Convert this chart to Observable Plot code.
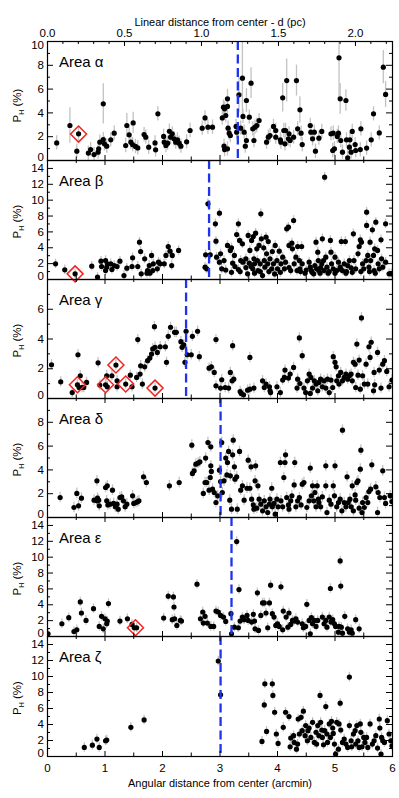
<!DOCTYPE html>
<html><head><meta charset="utf-8">
<script src="https://cdn.jsdelivr.net/npm/d3@7"></script>
<script src="https://cdn.jsdelivr.net/npm/@observablehq/plot@0.6"></script>
<style>
body{margin:0;background:#fff;}
#chart svg{display:block;overflow:visible;background:transparent;}
</style></head><body><div id="chart"></div>
<script>
// ---------- data ----------
const ARCMIN_PER_PC = 2.678;
const pcTicks = [0, 0.5, 1.0, 1.5, 2.0];
const arcminTicks = [0, 1, 2, 3, 4, 5, 6];
const areaNames = ["Area α", "Area β", "Area γ", "Area δ", "Area ε", "Area ζ"];
const boundaries = [3.31, 2.81, 2.41, 3.01, 3.2, 3.01];
const yMaxes = [10, 15, 8, 10, 15, 15];
const yLabels = [[2,4,6,8],[2,4,6,8,10,12,14],[2,4,6],[2,4,6,8],[2,4,6,8,10,12,14],[2,4,6,8,10,12,14]];
const defaultErr = [0.6, 0.6, 0.35, 0.45, 0.6, 0.6];

// [arcmin, P_H(%), optional error]
const alphaPts = [[0.16,1.48],[0.39,2.94,1.5],[0.51,0.78],[0.54,2.24],[0.71,0.62],[0.75,0.92],[0.81,0.5],[0.88,0.7],[0.89,0.98],[0.91,1.54],[0.97,4.76,1.7],[0.97,1.76],[0.99,1.4],[1.03,1.2],[1.1,1.74],[1.16,2.3],[1.38,2.94,1.0],[1.42,2.16],[1.36,1.26],[1.45,1.54],[1.49,3.16,0.9],[1.48,1.34],[1.53,1.18],[1.57,1.06],[1.68,2.18],[1.71,1.96],[1.76,1.12],[1.87,1.48],[1.88,0.9],[1.92,3.92],[2.02,2.02],[2.03,1.54],[2.06,1.26],[2.09,1.46],[2.12,2.46],[2.14,1.96],[2.17,2.24],[2.2,1.82],[2.23,1.54],[2.26,1.74],[2.32,1.2],[2.29,1.46],[2.42,1.57],[2.48,2.52],[2.69,2.72],[2.74,3.58],[2.79,2.8],[2.87,2.8],[3.04,3.58],[3.06,4.48],[3.08,4.34],[3.1,3.78],[3.13,5.18,0.8],[3.13,4.54],[3.14,2.72],[3.16,2.3],[3.18,2.1],[3.07,1.2],[3.08,0.92],[3.13,0.98],[3.28,2.86],[3.29,2.38],[3.33,5.52,1.5],[3.36,2.72],[3.39,6.92,3.1],[3.4,3.7],[3.42,2.38],[3.44,1.2],[3.46,5.04,1.0],[3.46,1.68],[3.51,3.64],[3.54,6.5,1.3],[3.57,2.66],[3.59,1.68],[3.61,2.8],[3.64,2.94],[3.68,3.36],[3.81,1.54],[3.84,1.96],[3.87,2.1],[3.93,2.86],[3.97,2.52],[3.97,1.96],[4.05,1.74],[4.06,1.54],[4.09,5.27,1.2],[4.11,2.52],[4.13,1.4],[4.14,2.52],[4.16,6.72,1.8],[4.19,1.82],[4.2,2.24],[4.22,1.68],[4.28,1.96],[4.33,6.72,1.3],[4.35,2.66],[4.39,4.26,1.1],[4.41,2.3],[4.43,1.34],[4.57,2.94],[4.58,2.38],[4.61,1.82],[4.64,2.38],[4.66,0.78],[4.72,1.88],[4.77,2.44],[4.93,2.24],[4.96,0.84],[4.97,2.3],[4.99,0.98],[5.04,2.02],[5.06,2.3],[5.07,8.63,3.5],[5.09,5.18,1.3],[5.1,1.68],[5.13,0.7],[5.19,5.04,0.9],[5.2,1.74],[5.22,0.22],[5.25,1.12],[5.28,0.7],[5.26,1.74],[5.3,2.44],[5.35,1.34],[5.36,0.84],[5.45,2.66],[5.44,0.92],[5.55,1.04],[5.63,1.74],[5.67,3.92],[5.77,2.32],[5.84,7.84,1.4],[5.88,5.55,1.1]];

const betaPts = [[0.14,1.97],[0.3,1.22],[0.48,0.71],[0.77,1.68],[0.87,0.29],[0.93,2.31],[0.94,1.64],[1.01,2.39],[1.03,1.55],[1.04,1.97],[1.01,1.13],[1.1,1.97],[1.12,1.26],[1.16,1.76],[1.21,1.64],[1.26,2.31],[1.33,0.5],[1.38,1.43],[1.47,1.64],[1.48,2.73],[1.57,1.64],[1.6,4.71],[1.62,3.53],[1.63,0.71],[1.69,2.6],[1.73,0.8],[1.74,1.13],[1.77,1.76],[1.78,0.8],[1.81,3.03],[1.83,1.13],[1.84,1.97],[1.91,1.34],[1.93,2.18],[1.96,1.97],[2.03,1.97],[2.06,3.03],[2.1,4.16],[2.13,3.57],[2.16,1.76],[2.17,3.03],[2.28,3.66],[2.74,1.55],[2.75,3.11],[2.77,1.34],[2.79,9.54],[2.83,3.11],[2.92,7.02],[2.93,4.83],[2.94,2.82],[2.99,8.36],[2.99,2.18],[3.01,3.24],[3.03,1.34],[3.07,2.39],[3.13,4.29],[3.18,3.66],[3.2,3.99],[3.22,2.06],[3.25,3.03],[3.26,1.64],[3.29,5.67],[3.32,7.02],[3.32,1.26],[3.34,4.92],[3.36,2.39],[3.39,4.5],[3.4,2.18],[3.45,2.6],[3.48,0.71],[3.49,5.55],[3.51,2.06],[3.52,3.66],[3.54,1.64],[3.55,4.92],[3.57,1.34],[3.58,5.42],[3.59,2.6],[3.6,1.97],[3.62,5.84],[3.64,3.87],[3.65,2.39],[3.66,1.13],[3.68,4.29],[3.7,1.97],[3.71,8.28],[3.72,5.13],[3.74,0.5],[3.76,3.99],[3.77,2.39],[3.78,1.55],[3.8,5.34],[3.81,3.24],[3.83,1.97],[3.84,4.79],[3.87,2.6],[3.9,1.34],[3.91,3.53],[3.93,1.97],[3.96,4.29],[3.99,2.39],[4.0,1.34],[4.03,3.57],[4.06,1.97],[4.09,2.82],[4.12,1.34],[4.14,2.18],[4.16,6.39],[4.19,6.6],[4.2,4.29],[4.23,1.13],[4.25,4.58],[4.26,3.87],[4.28,7.44],[4.29,1.97],[4.32,2.82],[4.34,1.13],[4.35,4.16],[4.38,2.39],[4.39,1.34],[4.42,4.16],[4.43,1.97],[4.48,0.8],[4.55,2.18],[4.57,1.55],[4.59,1.13],[4.63,0.71],[4.65,1.76],[4.67,4.71],[4.68,1.34],[4.7,3.45],[4.71,2.39],[4.72,1.13],[4.74,0.8],[4.77,1.97],[4.78,5.13],[4.8,2.39],[4.81,1.13],[4.82,12.9],[4.84,2.82],[4.86,1.55],[4.88,0.8],[4.92,4.92],[4.93,3.45],[4.94,1.97],[4.97,1.34],[5.0,2.82],[5.03,1.13],[5.06,2.18],[5.09,1.55],[5.11,4.79],[5.13,1.13],[5.16,1.97],[5.18,4.79],[5.19,0.8],[5.22,1.76],[5.25,2.39],[5.28,1.47],[5.32,5.76],[5.33,2.39],[5.36,1.34],[5.4,3.24],[5.42,4.16],[5.44,5.0],[5.46,4.71],[5.48,1.97],[5.5,1.34],[5.54,2.39],[5.55,8.49],[5.55,6.81],[5.57,3.03],[5.59,1.55],[5.61,4.71],[5.62,2.39],[5.65,6.26],[5.67,3.03],[5.68,1.13],[5.69,3.87],[5.71,7.23],[5.74,3.66],[5.75,1.97],[5.77,1.34],[5.8,5.0],[5.81,2.6],[5.83,1.55],[5.88,7.02],[5.88,2.18],[5.94,0.71],[5.98,0.71],[3.1,1.2],[3.2,0.9],[3.35,1.0],[3.45,1.5],[3.6,0.8],[3.7,1.0],[3.85,1.0],[3.95,0.7],[4.05,0.9],[4.2,1.5],[4.4,1.0],[4.5,1.2],[4.6,0.9],[4.75,1.5],[4.9,1.0],[5.0,0.8],[5.1,1.3],[5.2,1.0],[5.3,0.9],[5.45,1.0],[5.6,1.0],[5.7,0.8]];

const gammaPts = [[0.07,2.27],[0.23,1.12],[0.43,0.4],[0.52,0.92],[0.53,2.94],[0.55,0.74],[0.57,1.53],[0.6,0.74],[0.63,0.74],[0.68,1.08],[0.88,2.4],[0.91,0.9],[1.01,0.92],[1.03,1.53],[1.04,0.79],[1.12,1.53],[1.19,2.25],[1.21,1.19],[1.21,0.79],[1.36,0.97],[1.44,1.57],[1.47,0.79],[1.55,1.42],[1.57,3.96],[1.61,1.64],[1.62,2.2],[1.65,0.97],[1.69,2.13],[1.74,2.54],[1.78,2.72],[1.81,2.99],[1.83,3.33],[1.86,4.83],[1.87,3.44],[1.87,0.7],[1.91,3.1],[1.96,3.48],[2.05,3.48],[2.07,2.43],[2.1,4.18],[2.14,4.79],[2.21,4.45],[2.24,4.45],[2.32,3.82],[2.34,3.44],[2.37,3.6],[2.39,2.43],[2.41,4.52],[2.43,2.94],[2.5,2.94],[2.52,4.18],[2.61,4.52],[2.64,2.81],[2.81,2.04],[2.85,2.13],[2.9,1.75],[2.93,3.96],[2.93,0.85],[3.01,0.7],[3.03,1.26],[3.09,0.74],[3.15,0.7],[3.18,1.75],[3.21,1.19],[3.22,3.55],[3.24,1.3],[3.35,0.47],[3.37,0.34],[3.41,0.25],[3.48,0.56],[3.52,2.76],[3.52,0.63],[3.59,0.7],[3.74,1.19],[3.77,0.74],[3.8,0.97],[3.86,0.79],[3.87,0.52],[3.88,0.4],[3.99,0.79],[4.05,0.4],[4.09,1.24],[4.12,1.42],[4.13,1.91],[4.19,1.37],[4.22,1.64],[4.28,2.09],[4.34,0.7],[4.35,1.3],[4.38,4.07],[4.39,1.01],[4.43,2.88],[4.46,0.7],[4.49,0.4],[4.52,1.19],[4.55,1.64],[4.57,0.34],[4.58,1.42],[4.61,0.7],[4.64,1.19],[4.67,0.97],[4.7,0.52],[4.72,1.08],[4.75,1.3],[4.78,0.79],[4.81,1.19],[4.84,0.7],[4.87,1.3],[4.9,0.4],[4.93,1.24],[4.96,0.74],[4.97,2.81],[5.0,2.43],[5.02,2.13],[5.03,1.19],[5.06,1.53],[5.07,0.97],[5.1,1.75],[5.13,1.19],[5.16,1.42],[5.19,1.64],[5.22,1.3],[5.25,1.53],[5.28,1.64],[5.3,1.19],[5.32,2.43],[5.35,2.31],[5.36,0.74],[5.38,3.66],[5.4,1.57],[5.42,2.58],[5.44,0.63],[5.46,5.42],[5.48,1.53],[5.51,0.97],[5.54,2.31],[5.57,0.97],[5.59,3.48],[5.61,2.76],[5.63,3.78],[5.67,0.52],[5.68,1.75],[5.69,0.92],[5.74,3.1],[5.77,1.91],[5.8,0.7],[5.83,2.31],[5.86,2.54],[5.9,1.82],[5.94,0.79],[5.99,1.24]];

const deltaPts = [[0.22,1.68],[0.46,0.84],[0.51,2.02],[0.54,0.98],[0.59,1.62],[0.81,1.46],[0.86,3.08],[0.87,1.62],[0.89,1.46],[0.9,0.98],[0.86,1.4],[1.01,2.52],[1.04,2.66],[1.03,1.4],[1.05,1.06],[1.09,1.12],[1.13,2.3],[1.15,1.18],[1.18,0.9],[1.21,1.12],[1.23,0.7],[1.26,1.68],[1.29,1.74],[1.32,1.4],[1.35,0.9],[1.38,1.12],[1.48,1.82],[1.5,1.18],[1.54,1.26],[1.57,1.34],[1.59,1.4],[1.67,3.42],[1.72,2.94],[2.12,2.66],[2.29,2.94],[2.51,6.08],[2.52,3.7],[2.55,3.92],[2.58,4.48],[2.62,4.57],[2.65,4.68],[2.71,2.02],[2.74,2.94],[2.75,4.99],[2.77,2.94],[2.79,6.3],[2.81,2.3],[2.83,3.36],[2.84,5.94],[2.84,4.34],[2.85,3.87],[2.87,2.38],[2.9,2.1],[2.93,1.26],[2.96,1.82],[2.99,3.98],[3.01,3.02],[3.03,6.3],[3.04,2.1],[3.07,3.08],[3.1,4.99],[3.12,3.58],[3.13,4.62],[3.15,5.55],[3.17,1.46],[3.18,3.5],[3.2,0.7],[3.22,5.27],[3.23,6.5],[3.25,4.26],[3.26,3.22],[3.29,3.42],[3.3,0.7],[3.34,5.55],[3.36,2.3],[3.39,2.66],[3.42,1.46],[3.47,2.46],[3.49,4.82],[3.52,2.46],[3.54,4.26],[3.55,1.54],[3.58,1.06],[3.59,0.7],[3.61,3.08],[3.62,4.34],[3.64,0.78],[3.66,2.66],[3.68,1.54],[3.71,1.12],[3.74,0.56],[3.77,1.4],[3.8,0.9],[3.83,0.42],[3.86,1.12],[3.87,1.54],[3.9,2.46],[3.91,0.9],[3.94,1.18],[3.96,0.28],[3.99,1.54],[4.01,0.9],[4.05,4.62],[4.06,1.4],[4.09,0.9],[4.11,3.36],[4.13,4.62],[4.14,5.27],[4.16,1.68],[4.19,1.06],[4.2,0.7],[4.23,1.4],[4.25,1.82],[4.29,2.74],[4.3,4.62],[4.32,0.9],[4.35,1.4],[4.38,1.68],[4.41,1.06],[4.43,2.8],[4.46,2.94],[4.51,0.84],[4.55,1.4],[4.57,4.15],[4.59,1.82],[4.61,2.66],[4.63,1.4],[4.65,2.1],[4.67,0.9],[4.69,2.66],[4.71,1.54],[4.72,1.26],[4.75,0.9],[4.78,1.74],[4.84,2.66],[4.86,0.42],[4.84,4.34],[4.9,1.46],[4.93,1.12],[4.97,2.66],[4.99,1.82],[5.0,4.34],[5.03,0.9],[5.06,1.26],[5.09,1.54],[5.12,0.56],[5.13,7.34],[5.16,1.26],[5.19,0.9],[5.21,3.42],[5.23,1.26],[5.26,1.54],[5.28,0.9],[5.3,2.66],[5.32,0.56],[5.35,1.9],[5.36,1.46],[5.38,2.94],[5.4,3.08],[5.42,0.78],[5.44,4.06],[5.45,5.66],[5.47,0.42],[5.48,1.26],[5.51,0.84],[5.54,1.68],[5.57,1.26],[5.59,2.18],[5.62,2.38],[5.64,4.43],[5.71,2.58],[5.74,0.42],[5.75,2.1],[5.78,1.68],[5.83,3.92],[5.86,1.68],[5.88,1.18],[5.96,1.82],[5.99,1.34]];

const epsilonPts = [[0.01,0.34],[0.25,1.61],[0.37,2.37],[0.46,0.63],[0.51,0.85],[0.57,4.36],[0.59,2.96],[0.67,2.03],[0.8,3.51],[0.9,1.27],[0.94,2.54],[0.97,0.97],[1.0,2.24],[1.03,1.61],[1.04,1.95],[1.06,4.15],[1.26,1.95],[1.39,2.24],[1.47,1.52],[1.51,1.1],[1.55,1.1],[2.02,2.33],[2.1,5.08],[2.17,2.12],[2.19,4.99],[2.2,3.72],[2.21,2.24],[2.25,1.4],[2.31,2.03],[2.33,1.95],[2.6,6.6],[2.66,2.24],[2.7,3.09],[2.71,1.69],[2.74,2.54],[2.78,1.69],[2.84,1.27],[2.89,1.27],[2.93,3.21],[2.97,3.09],[3.01,2.66],[3.06,2.45],[3.1,1.9],[3.19,2.88],[3.2,0.34],[3.25,1.18],[3.29,11.97],[3.32,1.1],[3.33,5.92],[3.35,1.95],[3.39,2.45],[3.42,2.12],[3.47,2.66],[3.49,2.03],[3.55,1.82],[3.58,2.79],[3.6,1.95],[3.61,0.97],[3.65,5.5],[3.67,0.76],[3.71,2.66],[3.74,4.23],[3.77,4.23],[3.8,2.96],[3.83,1.1],[3.86,4.23],[3.88,6.47],[3.91,2.88],[3.94,2.45],[3.97,1.4],[4.0,1.61],[4.03,1.27],[4.06,6.26],[4.09,0.85],[4.1,3.21],[4.15,2.45],[4.18,1.18],[4.2,2.96],[4.23,1.52],[4.26,2.03],[4.29,1.95],[4.32,2.24],[4.35,1.82],[4.43,1.61],[4.45,1.1],[4.49,1.27],[4.51,4.06],[4.55,2.03],[4.57,0.34],[4.59,2.37],[4.61,1.61],[4.64,2.03],[4.67,1.27],[4.7,2.03],[4.78,2.45],[4.81,1.61],[4.84,2.03],[4.86,1.18],[4.9,2.45],[4.92,6.05],[4.93,1.82],[4.96,2.12],[4.99,1.61],[5.01,1.27],[5.06,0.55],[5.07,1.27],[5.09,9.52],[5.1,6.35],[5.11,1.18],[5.13,0.42],[5.17,2.54],[5.22,0.97],[5.25,0.55],[5.28,0.85],[5.3,0.42],[5.36,2.12],[5.42,0.97]];

const zetaPts = [[0.64,1.13],[0.78,1.42],[0.86,2.18],[0.9,1.13],[1.01,1.97],[1.03,2.05],[1.45,3.65],[1.68,4.57],[2.97,11.94],[3.01,7.71],[3.73,1.89],[3.77,6.45],[3.78,9.09],[3.81,3.14],[3.91,9.09],[3.92,7.63],[3.95,5.53],[3.98,2.81],[4.01,1.63],[4.1,3.65],[4.14,5.53],[4.2,4.99],[4.22,1.22],[4.23,2.31],[4.28,2.6],[4.29,1.76],[4.33,0.92],[4.35,1.55],[4.36,4.69],[4.38,2.81],[4.41,4.9],[4.43,3.23],[4.45,5.66],[4.48,2.6],[4.49,3.86],[4.52,1.97],[4.53,3.23],[4.55,3.56],[4.58,2.39],[4.61,4.27],[4.64,1.76],[4.67,3.02],[4.68,1.55],[4.7,3.86],[4.72,2.6],[4.74,7.63],[4.75,4.27],[4.77,3.31],[4.78,2.39],[4.8,1.47],[4.82,3.23],[4.84,6.24],[4.86,2.81],[4.87,1.76],[4.9,4.07],[4.92,2.39],[4.94,4.4],[4.96,3.56],[4.97,2.89],[4.99,1.55],[5.01,0.29],[5.03,4.27],[5.06,0.92],[5.07,4.07],[5.09,6.66],[5.1,3.31],[5.13,1.76],[5.16,2.18],[5.19,1.55],[5.22,1.13],[5.25,3.86],[5.25,9.93],[5.28,1.97],[5.29,1.22],[5.32,2.81],[5.35,3.23],[5.36,1.55],[5.38,3.86],[5.4,1.97],[5.42,1.13],[5.44,4.07],[5.45,3.02],[5.47,1.22],[5.5,2.39],[5.52,1.76],[5.55,2.39],[5.57,1.13],[5.61,4.07],[5.65,1.55],[5.68,1.97],[5.71,2.6],[5.74,1.05],[5.77,4.69],[5.78,3.56],[5.8,0.29],[5.81,2.39],[5.83,1.97],[5.86,1.76],[5.91,4.48],[5.94,2.81],[5.97,1.97],[5.99,1.34]];

const alphaDiamonds = [[0.54,2.22]];
const betaDiamonds = [[0.48,0.71]];
const gammaDiamonds = [[0.52,0.92],[1.01,0.92],[1.19,2.25],[1.36,0.97],[1.87,0.7]];
const deltaDiamonds = [];
const epsilonDiamonds = [[1.53,1.1]];
const zetaDiamonds = [];

const topTitle = "Linear distance from center - d (pc)";
const bottomTitle = "Angular distance from center (arcmin)";

// ---------- drawing ----------
const allPts = [alphaPts, betaPts, gammaPts, deltaPts, epsilonPts, zetaPts];
const allDiamonds = [alphaDiamonds, betaDiamonds, gammaDiamonds, deltaDiamonds, epsilonDiamonds, zetaDiamonds];
const W = 399, ML = 47, MR = 7;
const IW = W - ML - MR;
const FONT = "'Liberation Sans', Arial, Helvetica, sans-serif";
const chart = document.getElementById("chart");

function makePanel(i) {
  const top = i === 0, bottom = i === 5;
  const mt = top ? 41 : 0, mb = bottom ? 42 : 0;
  const fh = bottom ? 120 : 119;
  const ymax = yMaxes[i];
  const e0 = defaultErr[i];
  const pts = allPts[i];
  const yT = d3.range(0, ymax + 0.001, 1);
  const yMaj = yT.filter(v => v % 2 === 0), yMin = yT.filter(v => v % 2 !== 0);
  const xMaj = arcminTicks, xMin = d3.range(0.5, 6, 1);
  const pcMaj = pcTicks.map(p => p * ARCMIN_PER_PC);
  const pcMin = d3.range(0, 2.25, 0.1).map(p => p * ARCMIN_PER_PC);

  const marks = [
    Plot.ruleX(pts, {x: d => d[0], y1: d => d[1] - (d[2] ?? e0), y2: d => d[1] + (d[2] ?? e0), stroke: "#c2c2c2", strokeWidth: 1.3, clip: true}),
    Plot.dot(pts, {x: d => d[0], y: d => d[1], r: 2.6, fill: "black", clip: true}),
    Plot.ruleX([boundaries[i]], {x: d => d, stroke: "#1d33ee", strokeWidth: 2.3, strokeDasharray: "9,4.5"}),
    Plot.dot(allDiamonds[i], {x: d => d[0], y: d => d[1], symbol: "diamond2", r: 7.2, stroke: "#f2231f", strokeWidth: 1.5, fill: "none"}),
    // y ticks (inward), left and right
    Plot.tickY(yMaj, {y: d => d, insetRight: IW - 6, stroke: "black"}),
    Plot.tickY(yMin, {y: d => d, insetRight: IW - 3, stroke: "black"}),
    Plot.tickY(yMaj, {y: d => d, insetLeft: IW - 6, stroke: "black"}),
    Plot.tickY(yMin, {y: d => d, insetLeft: IW - 3, stroke: "black"}),
    // x ticks bottom (inward)
    Plot.tickX(xMaj, {x: d => d, insetTop: fh - 5, stroke: "black"}),
    Plot.tickX(xMin, {x: d => d, insetTop: fh - 3.5, stroke: "black"}),
    // x ticks top (inward)
    Plot.tickX(top ? pcMaj : xMaj, {x: d => d, insetBottom: fh - 5, stroke: "black"}),
    Plot.tickX(top ? pcMin : xMin, {x: d => d, insetBottom: fh - 3, stroke: "black"}),
    Plot.frame({stroke: "black", strokeWidth: 1.2}),
    // y labels
    Plot.text(yLabels[i], {y: d => d, text: d => String(d), frameAnchor: "left", textAnchor: "end", dx: -3.5}),
    Plot.text([0], {y: d => d, text: d => String(d), frameAnchor: "left", textAnchor: "end", dx: -3.5, dy: -3.5}),
    Plot.text([areaNames[i]], {text: d => d, frameAnchor: "top-left", textAnchor: "start", lineAnchor: "bottom", dx: 11.5, dy: 25.7, fontSize: 15})
  ];
  if (top) {
    marks.push(
      Plot.text([10], {y: d => d, text: d => String(d), frameAnchor: "left", textAnchor: "end", dx: -3.5, dy: 4}),
      Plot.text(pcTicks, {x: p => p * ARCMIN_PER_PC, text: p => p.toFixed(1), frameAnchor: "top", lineAnchor: "bottom", dy: -4.3}),
      Plot.text([topTitle], {text: d => d, frameAnchor: "top", lineAnchor: "bottom", dy: -15.8, fontSize: 11})
    );
  }
  if (bottom) {
    marks.push(
      Plot.text(arcminTicks, {x: d => d, text: d => String(d), frameAnchor: "bottom", lineAnchor: "bottom", dy: 15.3}),
      Plot.text([bottomTitle], {text: d => d, frameAnchor: "bottom", lineAnchor: "bottom", dy: 30, fontSize: 11})
    );
  }
  const svg = Plot.plot({
    width: W, height: mt + fh + mb,
    marginLeft: ML, marginRight: MR, marginTop: mt, marginBottom: mb,
    x: {domain: [0, 6], axis: null},
    y: {domain: [0, ymax], axis: null},
    style: {fontFamily: FONT, fontSize: "11.5px", color: "black", background: "transparent", overflow: "visible"},
    marks
  });
  // y-axis title with subscript
  const cy = mt + fh / 2 + (top ? 5 : 2);
  const t = d3.select(svg).append("text")
    .attr("transform", `translate(21,${cy}) rotate(-90)`)
    .attr("text-anchor", "middle")
    .attr("fill", "black")
    .style("font-family", FONT).style("font-size", "11.5px");
  t.append("tspan").text("P");
  t.append("tspan").attr("dy", 2.5).style("font-size", "7px").text("H");
  t.append("tspan").attr("dy", -2.5).text(" (%)");
  return svg;
}

for (let i = 0; i < 6; i++) chart.appendChild(makePanel(i));
</script></body></html>
